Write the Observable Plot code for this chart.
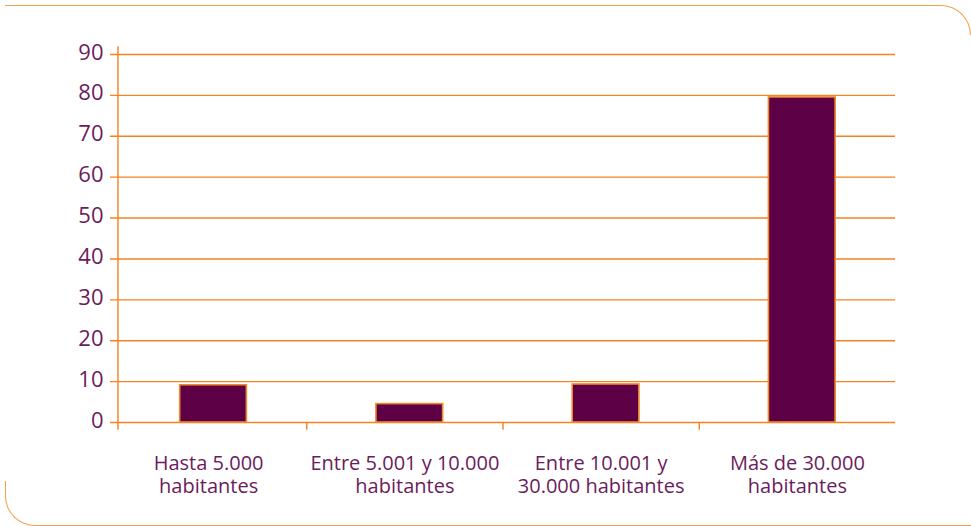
<!DOCTYPE html>
<html>
<head>
<meta charset="utf-8">
<script src="https://cdn.jsdelivr.net/npm/d3@7"></script>
<script src="https://cdn.jsdelivr.net/npm/@observablehq/plot@0.6"></script>
<style>
  html, body { margin: 0; padding: 0; background: #fff; }
  body { width: 971px; height: 526px; overflow: hidden; position: relative; font-family: "Open Sans", sans-serif; }
  #chart { position: absolute; left: 0; top: 0; }
  .frame-tr { position: absolute; left: 5px; top: 5px; width: 966px; height: 30px; box-sizing: border-box;
    border-top: 1.6px solid #f4a04c; border-right: 1.6px solid #f4a04c; border-top-right-radius: 30px; }
  .frame-bl { position: absolute; left: 5px; top: 481px; width: 1000px; height: 45px; box-sizing: border-box;
    border-left: 1.6px solid #f4a04c; border-bottom: 1.6px solid #f4a04c; border-bottom-left-radius: 30px; }
</style>
</head>
<body>
<div class="frame-tr"></div>
<div class="frame-bl"></div>
<div id="chart"></div>
<script>
// Data
const categories = [
  "Hasta 5.000\nhabitantes",
  "Entre 5.001 y 10.000\nhabitantes",
  "Entre 10.001 y\n30.000 habitantes",
  "Más de 30.000\nhabitantes"
];
const values = [9.1, 4.5, 9.3, 79.5];
const yTicks = [0, 10, 20, 30, 40, 50, 60, 70, 80, 90];

const data = categories.map((c, i) => ({category: c, value: values[i], i}));

const purple = "#6b1c5c";
const barFill = "#5e0045";
const orange = "#f58220";
const axisCross = 0.038; // where the value axis crosses the category axis
const axisOver = 1.9;    // axis line overhang (value units)

const chart = Plot.plot({
  width: 971,
  height: 526,
  marginTop: 54,
  marginBottom: 104,
  marginLeft: 110,
  marginRight: 76,
  style: {background: "transparent", overflow: "visible", fontFamily: "Open Sans, sans-serif"},
  x: {domain: [0, categories.length], axis: null},
  y: {domain: [0, 90], ticks: yTicks, axis: null},
  marks: [
    Plot.ruleY(yTicks, {x1: 0, x2: categories.length, stroke: orange, strokeWidth: 1.4}),
    Plot.ruleX([axisCross], {y1: -axisOver, y2: 90 + axisOver, stroke: orange, strokeWidth: 1.4}),
    Plot.ruleX(d3.range(1, categories.length), {y1: 0, y2: -axisOver, stroke: orange, strokeWidth: 1.4}),
    Plot.rectY(data, {
      x1: d => d.i + 0.355,
      x2: d => d.i + 0.695,
      y1: 0,
      y2: "value",
      fill: barFill,
      stroke: "#ee8a2e",
      strokeWidth: 1.6
    }),
    Plot.axisY({
      ticks: yTicks,
      tickSize: 0,
      tickPadding: 7,
      fontSize: 22,
      color: purple,
      label: null,
      dy: -2
    }),
    Plot.text(data, {
      x: d => d.i + 0.5,
      y: 0,
      text: "category",
      lineAnchor: "top",
      dy: 32,
      lineHeight: 1.12,
      fontSize: 20,
      fill: purple
    })
  ]
});
document.getElementById("chart").appendChild(chart);
</script>
</body>
</html>
